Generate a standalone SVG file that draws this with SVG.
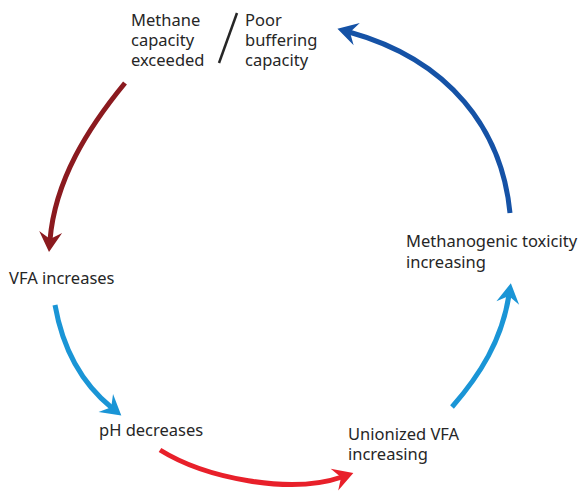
<svg xmlns="http://www.w3.org/2000/svg" width="583" height="491" viewBox="0 0 583 491">
  <style>
    .lbl { font-family: "Noto Sans", "DejaVu Sans", sans-serif; font-size: 16.5px; fill: #262626; }
    .arc { fill: none; stroke-width: 5; stroke-linecap: butt; }
  </style>
  <defs>
    <marker id="head-darkred" markerUnits="userSpaceOnUse" orient="auto" viewBox="-10 -13 24 26" markerWidth="24" markerHeight="26" refX="0" refY="0">
      <path d="M12,0 L-8,-11.5 L-1,0 L-8,11.5 Z" fill="#8b1a1f"/>
    </marker>
    <marker id="head-lightblue" markerUnits="userSpaceOnUse" orient="auto" viewBox="-10 -13 24 26" markerWidth="24" markerHeight="26" refX="0" refY="0">
      <path d="M12,0 L-8,-11.5 L-1,0 L-8,11.5 Z" fill="#1a95d6"/>
    </marker>
    <marker id="head-red" markerUnits="userSpaceOnUse" orient="auto" viewBox="-10 -13 24 26" markerWidth="24" markerHeight="26" refX="0" refY="0">
      <path d="M12,0 L-8,-11.5 L-1,0 L-8,11.5 Z" fill="#e8202a"/>
    </marker>
    <marker id="head-darkblue" markerUnits="userSpaceOnUse" orient="auto" viewBox="-10 -13 24 26" markerWidth="24" markerHeight="26" refX="0" refY="0">
      <path d="M12,0 L-8,-11.5 L-1,0 L-8,11.5 Z" fill="#1552a6"/>
    </marker>
  </defs>

  <rect x="0" y="0" width="583" height="491" fill="#ffffff"/>

  <!-- cycle arrows -->
  <g id="connectors">
    <path class="arc" stroke="#8b1a1f" d="M125,83 C88,128 55,180 50,240" marker-end="url(#head-darkred)"/>
    <path class="arc" stroke="#1a95d6" d="M55,305 C62,345 80,382 112,408" marker-end="url(#head-lightblue)"/>
    <path class="arc" stroke="#e8202a" d="M160,450 C205,478 290,495 342,477" marker-end="url(#head-red)"/>
    <path class="arc" stroke="#1a95d6" d="M452,407 C480,375 502,340 509,295" marker-end="url(#head-lightblue)"/>
    <path class="arc" stroke="#1552a6" d="M510,213 C502,130 450,60 349,32" marker-end="url(#head-darkblue)"/>
  </g>

  <!-- top: two alternative causes separated by a slash -->
  <g id="node-methane">
    <text class="lbl"><tspan x="131" y="26">Methane</tspan><tspan x="131" y="46">capacity</tspan><tspan x="131" y="66">exceeded</tspan></text>
  </g>
  <g id="node-slash">
    <line x1="237" y1="13" x2="219" y2="63" stroke="#262626" stroke-width="2.5"/>
  </g>
  <g id="node-buffering">
    <text class="lbl"><tspan x="245" y="26">Poor</tspan><tspan x="245" y="46">buffering</tspan><tspan x="245" y="66">capacity</tspan></text>
  </g>

  <g id="node-vfa">
    <text class="lbl" x="9" y="284">VFA increases</text>
  </g>
  <g id="node-ph">
    <text class="lbl" x="99" y="436">pH decreases</text>
  </g>
  <g id="node-unionized">
    <text class="lbl"><tspan x="348" y="440">Unionized VFA</tspan><tspan x="348" y="460">increasing</tspan></text>
  </g>
  <g id="node-toxicity">
    <text class="lbl"><tspan x="406" y="247">Methanogenic toxicity</tspan><tspan x="406" y="268">increasing</tspan></text>
  </g>
</svg>
